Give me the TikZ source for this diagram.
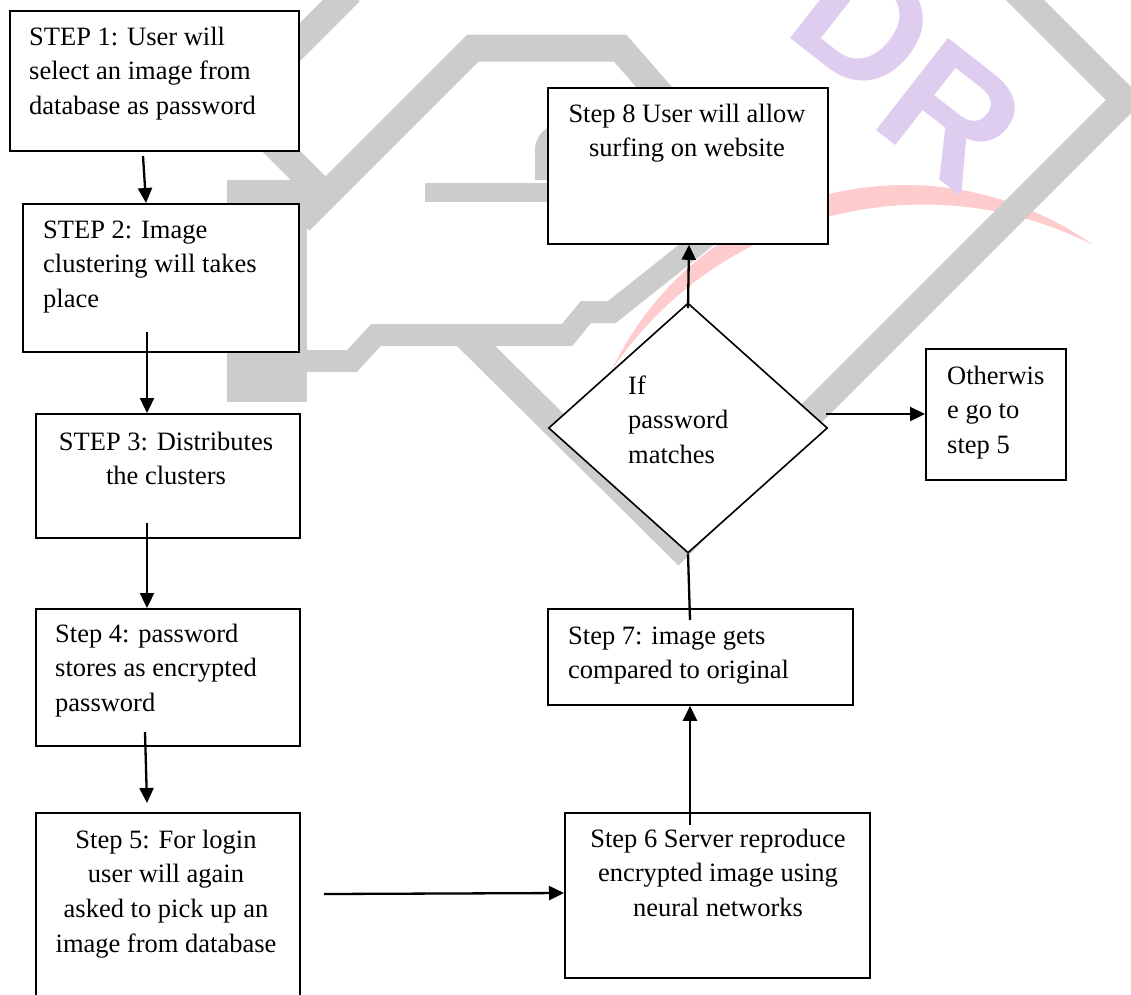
\documentclass[tikz,border=0pt]{standalone}
\usepackage{fontspec}
\setmainfont{Liberation Serif}
\newfontfamily\wmfont{Liberation Sans}
\usetikzlibrary{arrows.meta,shapes.geometric}
\definecolor{wmgray}{RGB}{204,204,204}
\definecolor{wmpink}{RGB}{255,204,206}
\definecolor{wmpurple}{RGB}{223,205,240}
\begin{document}
\begin{tikzpicture}[x=1pt,y=-1pt,
  box/.style={draw=black, line width=1.8pt, fill=white, rectangle, inner sep=0pt, anchor=north west},
  dia/.style={draw=black, line width=1.6pt, fill=white, diamond, inner sep=0pt},
  arr/.style={line width=2.3pt, -{Triangle[length=15pt,width=14pt]}},
  plainline/.style={line width=2.3pt},
  lbl/.style={inner sep=0pt, font=\fontsize{26.5}{34.7}\selectfont},
  wmletter/.style={rotate=-38, text=wmpurple, font=\wmfont\bfseries\fontsize{170}{170}\selectfont, inner sep=0pt},
  wm/.style={draw=wmgray, line width=27pt, line join=miter, line cap=butt}]
\useasboundingbox (0,0) rectangle (1131,994);
\clip (0,0) rectangle (1131,994);
% ---------- watermark ----------
\fill[wmpink] (611.7,370.1) arc[start angle=-154.5, end angle=-54.6, radius=325]
  arc[start angle=-63.15, end angle=-145.96, radius=376.2] -- cycle;
\node[wmletter] (wmd) at (866,23) {D};
\node[wmletter] (wmr) at (952,115) {R};
\draw[wm] (350,-8) -- (250,92);
\draw[wm] (250,120) -- (325,195);
\draw[wm] (690,128) -- (620,48) -- (473,48) -- (300,221);
\fill[wmgray] (227,180) rectangle (307,402);
\draw[wm, line width=22pt] (300,361) -- (352,361) -- (376,335) -- (567,335) -- (586,312) -- (612,312) -- (730,218);
\draw[wm] (465,335) -- (678.5,546.5) -- (1125,100) -- (1000,-25);
\fill[wmgray] (425,183) rectangle (560,202);
\draw[wmgray, line width=12pt] (541,180) -- (541,150) arc[start angle=180, end angle=270, radius=20];
% ---------- boxes ----------
\node[box, minimum width=289pt, minimum height=140pt] (b1) at (9,10) {};
\node[box, minimum width=276pt, minimum height=148pt] (b2) at (22,203) {};
\node[box, minimum width=264pt, minimum height=124pt] (b3) at (35,413) {};
\node[box, minimum width=264pt, minimum height=137pt] (b4) at (35,608) {};
\node[box, minimum width=264pt, minimum height=200pt] (b5) at (35,812) {};
\node[box, minimum width=305pt, minimum height=165pt] (b6) at (564,812) {};
\node[box, minimum width=305pt, minimum height=96pt] (b7) at (547,608) {};
\node[box, minimum width=280pt, minimum height=156pt] (b8) at (547,87) {};
\node[box, minimum width=140pt, minimum height=131pt] (bo) at (925,348) {};
\node[dia, minimum width=279pt, minimum height=250pt] (d) at (688,428) {};
% ---------- texts ----------
\node[lbl, anchor=base west] (t1) at (29,45) {\parbox[t]{270pt}{\raggedright STEP 1: User will\\select an image from\\database as password}};
\node[lbl, anchor=base west] (t2) at (43,238) {\parbox[t]{250pt}{\raggedright STEP 2: Image\\clustering will takes\\place}};
\node[lbl, anchor=base] (t3) at (166,450) {\parbox[t]{260pt}{\centering STEP 3: Distributes\\the clusters}};
\node[lbl, anchor=base west] (t4) at (55,642) {\parbox[t]{240pt}{\raggedright Step 4: password\\stores as encrypted\\password}};
\node[lbl, anchor=base] (t5) at (166,848) {\parbox[t]{260pt}{\centering Step 5: For login\\user will again\\asked to pick up an\\image from database}};
\node[lbl, anchor=base] (t6) at (718,847) {\parbox[t]{300pt}{\centering Step 6 Server reproduce\\encrypted image using\\neural networks}};
\node[lbl, anchor=base west] (t7) at (568,644) {\parbox[t]{290pt}{\raggedright Step 7: image gets\\compared to original}};
\node[lbl, anchor=base] (t8) at (687,122) {\parbox[t]{280pt}{\centering Step 8 User will allow\\surfing on website}};
\node[lbl, anchor=base west] (td) at (628,394) {\parbox[t]{150pt}{\raggedright If\\password\\matches}};
\node[lbl, anchor=base west] (to) at (947,384) {\parbox[t]{120pt}{\raggedright Otherwis\\e go to\\step 5}};
% ---------- connectors ----------
\coordinate (c1) at (143,156);
\coordinate (c2) at (147,332);
\coordinate (c3) at (147,523);
\coordinate (c4) at (145,732);
\coordinate (c4e) at (147,803);
\coordinate (c5) at (324,894);
\coordinate (c6) at (690,825);
\coordinate (c7) at (690,620);
\coordinate (c9) at (826,414);
\draw[arr] (c1) -- ([xshift=124pt]b2.north west);
\draw[arr] (c2) -- ([xshift=112pt]b3.north west);
\draw[arr] (c3) -- ([xshift=112pt]b4.north west);
\draw[arr] (c4) -- (c4e);
\draw[arr] (c5) -- ([yshift=-81pt]b6.north west);
\draw[arr] (c6) -- ([xshift=143pt]b7.south west);
\draw[plainline] (c7) -- (d.south);
\draw[arr] ([yshift=-6pt]d.north) -- ([xshift=142pt]b8.south west);
\draw[arr] (c9) -- ([yshift=-66pt]bo.north west);
\end{tikzpicture}
\end{document}
